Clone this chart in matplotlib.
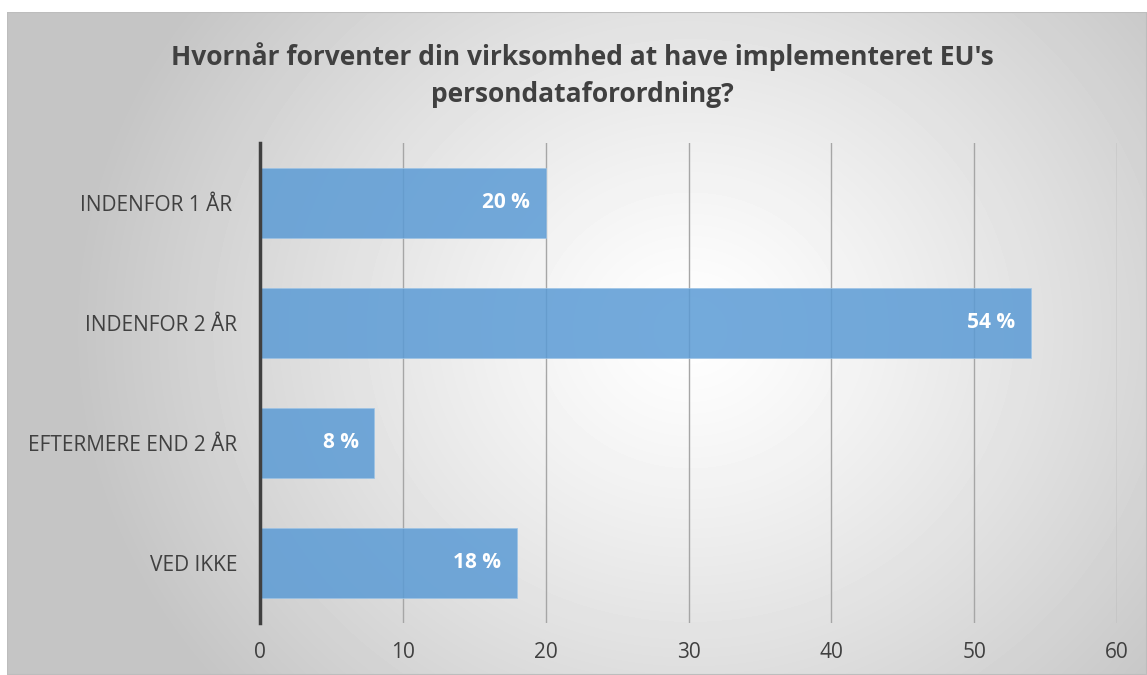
import numpy as np
import matplotlib.pyplot as plt
from matplotlib.patches import Rectangle

plt.rcParams['font.family'] = ['Open Sans', 'DejaVu Sans']

categories = ['INDENFOR 1 ÅR ', 'INDENFOR 2 ÅR', 'EFTERMERE END 2 ÅR', 'VED IKKE']
values = [20, 54, 8, 18]
value_labels = ['20 %', '54 %', '8 %', '18 %']
xticks = [0, 10, 20, 30, 40, 50, 60]
title = "Hvornår forventer din virksomhed at have implementeret EU's\npersondataforordning?"

W, H = 1147, 675
fig = plt.figure(figsize=(W / 100, H / 100), dpi=100)

# radial gradient background (chart area starts a few px in)
x0, y0 = 7, 12
bg = fig.add_axes([x0 / W, 0, 1 - x0 / W, 1 - y0 / H])
bg.set_axis_off()
gx = np.arange(x0, W)
gy = np.arange(y0, H)
XX, YY = np.meshgrid(gx, gy)
dist = np.sqrt(((XX - 690) / 1.0) ** 2 + ((YY - 330) / 0.9) ** 2)
shade = 1 - 0.23 * np.clip(dist / 620, 0, 1) ** 1.2
bg.imshow(shade, cmap='gray', vmin=0, vmax=1, aspect='auto',
          extent=[0, 1, 0, 1], interpolation='bilinear')
bg.add_patch(Rectangle((0, 0), 1, 1, transform=bg.transAxes, fill=False,
                       edgecolor='#bdbdbd', linewidth=1.5))
bg.set_xlim(0, 1)
bg.set_ylim(0, 1)

ax = fig.add_axes([260 / W, 52 / H, 857 / W, 480 / H])
ax.patch.set_alpha(0)

y = np.arange(len(categories))
ax.barh(y, values, height=0.59, color='#5b9bd5', alpha=0.85, zorder=3,
        edgecolor='#9cc3e6', linewidth=0.6)
for yi, v, lab in zip(y, values, value_labels):
    ax.text(v - 1.1, yi, lab, ha='right', va='center', color='white',
            fontsize=15, fontweight='bold', zorder=4)

ax.set_xlim(0, 60)
ax.set_ylim(len(categories) - 0.5, -0.5)
ax.set_xticks(xticks)
ax.set_yticks(y)
ax.set_yticklabels(categories)
ax.grid(axis='x', color='#a6a6a6', linewidth=1.0, zorder=1)
ax.tick_params(axis='both', length=0, labelsize=15, colors='#404040')
ax.tick_params(axis='y', pad=16.5)
ax.tick_params(axis='x', pad=14)
for s in ['top', 'right', 'bottom']:
    ax.spines[s].set_visible(False)
ax.spines['left'].set_color('#404040')
ax.spines['left'].set_linewidth(2.5)
ax.spines['left'].set_zorder(5)

fig.text(0.508, 1 - 75 / H, title, ha='center', va='center', fontsize=19,
         fontweight='bold', color='#404040', linespacing=1.5)

fig.savefig('out.png', dpi=100)
